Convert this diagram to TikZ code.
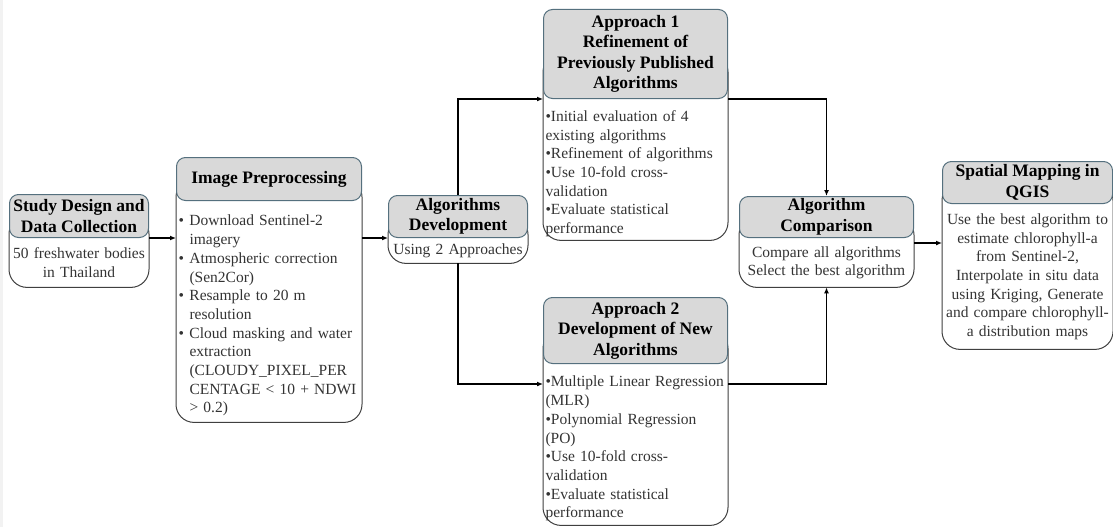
\documentclass[tikz,border=0pt]{standalone}
\usepackage{fontspec}
\setmainfont{Liberation Serif}
\definecolor{mygray}{HTML}{D9D9D9}
\definecolor{myslate}{HTML}{55707E}
\definecolor{myframe}{HTML}{3F3F3F}
\definecolor{mytext}{HTML}{333333}
\definecolor{mystrip}{HTML}{F2F2F2}
\usetikzlibrary{positioning, backgrounds, arrows.meta, calc}
\newcommand\headfont{\fontsize{17.5}{20.5}\selectfont\bfseries}
\newcommand\bodyfont{\fontsize{15.5}{18.7}\selectfont}
\newcommand\pbul{\par\hangindent=11pt\hangafter=1\noindent\makebox[11pt][l]{\textbullet}}
\newcommand\sbul{\par\noindent\textbullet}
\tikzset{
	headnode/.style={
			draw=myslate,
			fill=mygray,
			line width=1pt,
			rounded corners=9pt,
			align=center,
			font=\headfont,
			text=black,
			inner sep=1pt,
			anchor=north west
		},
	bodynode/.style={
			inner sep=3pt,
			font=\bodyfont,
			text=mytext,
			anchor=north
		},
	boxframe/.style={
			draw=myframe,
			line width=1pt,
			rounded corners=18pt
		},
	arr/.style={
			-{Latex[length=6pt,width=5pt]},
			line width=1.4pt,
			black
		}
}

\begin{document}
\begin{tikzpicture}[x=1pt, y=-1pt]
\useasboundingbox (0,0) rectangle (1113,527);
\fill[mystrip] (0,0) rectangle (3,527);

\node[headnode, minimum width=139pt, minimum height=43pt] (hStudy) at (9,194) {Study Design and\\Data Collection};
\node[headnode, minimum width=185pt, minimum height=43pt] (hPrep) at (176,157) {Image Preprocessing};
\node[headnode, minimum width=139pt, minimum height=42pt] (hDev) at (388,195) {Algorithms\\Development};
\node[headnode, minimum width=184pt, minimum height=89pt] (hApp1) at (543,9) {Approach 1\\Refinement of\\Previously Published\\Algorithms};
\node[headnode, minimum width=184pt, minimum height=66pt] (hApp2) at (543,297) {Approach 2\\Development of New\\Algorithms};
\node[headnode, minimum width=174pt, minimum height=41pt] (hComp) at (739,196) {Algorithm\\Comparison};
\node[headnode, minimum width=170pt, minimum height=42pt] (hMap) at (942,161) {Spatial Mapping in\\QGIS};

\node[bodynode, text width=133pt, minimum height=49pt, align=center] (bStudy) at (hStudy.south) {50 freshwater bodies\\in Thailand};
\node[bodynode, text width=181pt, inner xsep=2pt, minimum height=221pt, align=left] (bPrep) at (hPrep.south) {%
\pbul Download Sentinel-2\break imagery
\pbul Atmospheric correction\break (Sen2Cor)
\pbul Resample to 20 m\break resolution
\pbul Cloud masking and water\break extraction\break (CLOUDY\_PIXEL\_PER\break CENTAGE~<~10~+~NDWI\break > 0.2)\par};
\node[bodynode, text width=133pt, minimum height=25pt, align=center] (bDev) at (hDev.south) {Using 2 Approaches};
\node[bodynode, text width=180pt, minimum height=141pt, align=left] (bApp1) at (hApp1.south) {%
\sbul Initial evaluation of 4\\existing algorithms
\sbul Refinement of algorithms
\sbul Use 10-fold cross-\\validation
\sbul Evaluate statistical\\performance\par};
\node[bodynode, text width=180pt, minimum height=161pt, align=left] (bApp2) at (hApp2.south) {%
\sbul Multiple Linear Regression\\(MLR)
\sbul Polynomial Regression\\(PO)
\sbul Use 10-fold cross-\\validation
\sbul Evaluate statistical\\performance\par};
\node[bodynode, text width=170pt, minimum height=49pt, align=center] (bComp) at (hComp.south) {Compare all algorithms\\Select the best algorithm};
\node[bodynode, text width=166pt, minimum height=145pt, align=center] (bMap) at (hMap.south) {Use the best algorithm to\\estimate chlorophyll-a\\from Sentinel-2,\\Interpolate in situ data\\using Kriging, Generate\\and compare chlorophyll-\\a distribution maps};

% outer frames behind the headers
\begin{scope}[on background layer]
\foreach \b in {Study,Prep,Dev,App1,App2,Comp,Map}
  \draw[boxframe] (h\b.west) rectangle (h\b.east |- b\b.south);
\end{scope}

\coordinate (inApp2) at ([yshift=-20pt]hApp2.south west);
\coordinate (outApp2) at ([yshift=-20pt]hApp2.south east);
\coordinate (outComp) at ([yshift=-5pt]hComp.south east);

\draw[arr] (hStudy.south east) -- (hStudy.south east -| hPrep.west);
\draw[arr] (hDev.south west -| hPrep.east) -- (hDev.south west);
\draw[arr] (hDev.north) |- (hApp1.south west);
\draw[arr] (bDev.south) |- (inApp2);
\draw[arr] (hApp1.south east) -| (hComp.north);
\draw[arr] (outApp2) -| (bComp.south);
\draw[arr] (outComp) -- (outComp -| hMap.west);

\end{tikzpicture}
\end{document}
